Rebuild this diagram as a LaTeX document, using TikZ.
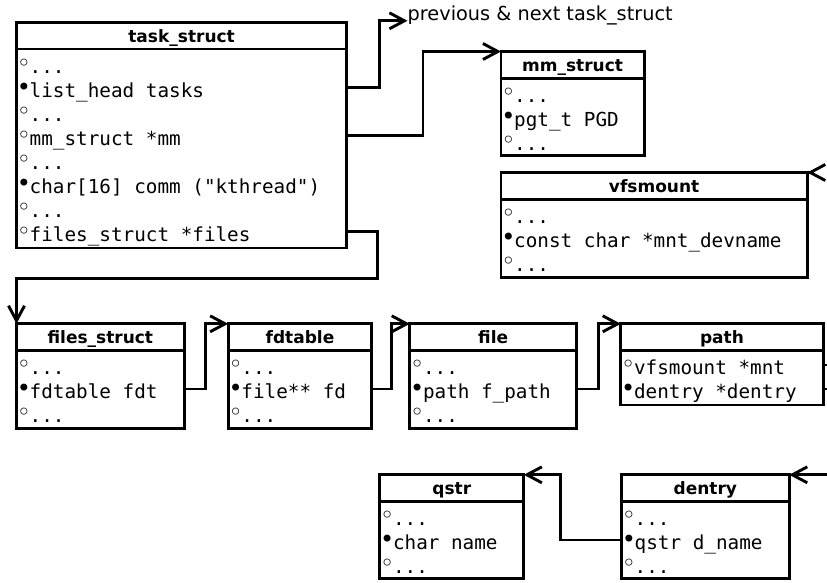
\documentclass[tikz,border=0pt]{standalone}
\usepackage{fontspec}
\usetikzlibrary{arrows.meta,positioning}
\newfontfamily\monofnt{DejaVu Sans Mono}
\newfontfamily\sansfnt{DejaVu Sans}
% open and filled field bullets, one mono cell wide
\newcommand{\ob}{\makebox[11.62pt]{\raisebox{1.8pt}{\sansfnt\fontsize{24}{24}\selectfont ◦}}}
\newcommand{\fb}{\makebox[11.62pt]{\raisebox{1.8pt}{\sansfnt\fontsize{24}{24}\selectfont •}}}
\newcommand{\etc}{...}
\tikzset{
	hdr/.style={draw, line width=2.9pt, anchor=north west, outer sep=0pt, inner sep=0pt,
		minimum height=26.7pt, text height=13.4pt, text depth=0pt,
		font=\sansfnt\bfseries\fontsize{17}{17}\selectfont},
	bodybox/.style={draw, line width=2.9pt, outer sep=0pt, inner sep=0pt},
	fieldrow/.style={anchor=base west, inner sep=0pt, text height=19pt, text depth=0pt,
		font=\monofnt\fontsize{19.3}{24}\selectfont},
	lbl/.style={anchor=base west, inner sep=0pt, font=\sansfnt\fontsize{19.3}{19.3}\selectfont},
	conn/.style={line width=2.9pt}
}
% name, title, top left, width, body height, fields
\newcommand{\structbox}[6]{%
	\node[hdr, minimum width=#4] (#1) at (#3) {#2};
	\node[bodybox, minimum width=#4, minimum height=#5, below=0pt of #1] (#1-b) {};
	\foreach \txt [count=\i] in {#6}
		\node[fieldrow] (#1-\i) at ([xshift=1.4pt, yshift=-24*\i] #1-b.north west) {\txt};
}
\begin{document}
\begin{tikzpicture}[x=1pt, y=-1pt, >={Straight Barb[length=15pt,width=16pt]}]
	\useasboundingbox (0,0) rectangle (827,582);
	\coordinate (rim) at (827,0);
	% process side
	\structbox{task}{task\_struct}{16.5,22.3}{330.2}{199}{{\ob\etc},{\fb list\_head tasks},{\ob\etc},{\ob mm\_struct *mm},{\ob\etc},{\fb char[16] comm ("kthread")},{\ob\etc},{\ob files\_struct *files}}
	\structbox{mm}{mm\_struct}{501,51.5}{143.2}{77.5}{{\ob\etc},{\fb pgt\_t PGD},{\ob\etc}}
	\structbox{vfs}{vfsmount}{501,172.5}{306.2}{78}{{\ob\etc},{\fb const char *mnt\_devname},{\ob\etc}}
	\node[lbl] (prev) at (407.5,20.8) {previous \& next task\_struct};
	\coordinate (vfsin) at ([xshift=1pt]vfs.north east);
	% file chain
	\structbox{files}{files\_struct}{16.5,323.8}{167.7}{78}{{\ob\etc},{\fb fdtable fdt},{\ob\etc}}
	\structbox{fdt}{fdtable}{228.2,323.8}{143.6}{78}{{\ob\etc},{\fb file** fd},{\ob\etc}}
	\structbox{file}{file}{409.8,323.8}{166.7}{78}{{\ob\etc},{\fb path f\_path},{\ob\etc}}
	\structbox{path}{path}{620.8,323.8}{202.4}{54.5}{{\ob vfsmount *mnt},{\fb dentry *dentry}}
	% names
	\structbox{qstr}{qstr}{379.8,474.8}{144}{77}{{\ob\etc},{\fb char name},{\ob\etc}}
	\structbox{dentry}{dentry}{621.5,474.8}{167.7}{77}{{\ob\etc},{\fb qstr d\_name},{\ob\etc}}
	% pointers
	\draw[conn,->] (task-b.east |- task-2) -- ++(32.5,0) |- (prev.base west);
	\draw[conn,->] (task-b.east |- task-4) -- ++(76.3,0) |- (mm.north west);
	\draw[conn,->] (task-b.east |- task-8) -- ++(31,0) -- ++(0,47.4) -| (files.north west);
	\draw[conn,->] (files-b.east |- files-2) -- ++(21.3,0) |- (fdt.north west);
	\draw[conn,->] (fdt-b.east |- fdt-2) -- ++(19.7,0) |- (file.north west);
	\draw[conn,->] (file-b.east |- file-2) -- ++(21.7,0) |- (path.north west);
	\draw[conn] (path-b.east |- path-1) -- (rim |- path-1);
	\draw[conn] (path-b.east |- path-2) -- (rim |- path-2);
	\draw[conn,->] (vfsin) -- (vfs.north east);
	\draw[conn,->] (rim |- dentry.north east) -- (dentry.north east);
	\draw[conn,->] (dentry-b.west |- dentry-2) -- ++(-60.7,0) |- (qstr.north east);
\end{tikzpicture}
\end{document}
